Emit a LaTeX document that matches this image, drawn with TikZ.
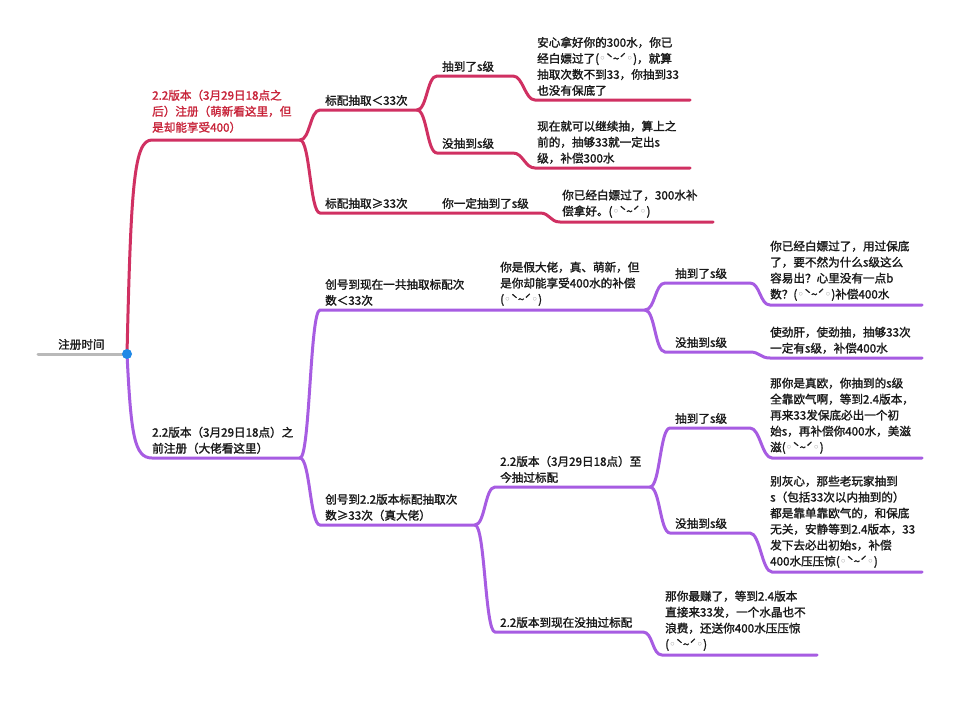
\documentclass[tikz,border=0pt]{standalone}
\usepackage{fontspec}
\setmainfont{Noto Sans CJK SC}[FakeBold=1.6]
\newfontfamily\symfont{DejaVu Sans}
\usetikzlibrary{calc}

\definecolor{rosebranch}{RGB}{208,48,98}
\definecolor{rosetext}{RGB}{200,36,58}
\definecolor{violetbranch}{RGB}{167,92,226}
\definecolor{rootgray}{RGB}{185,185,185}
\definecolor{dotblue}{RGB}{32,136,230}

\newcommand{\kao}{(\textcolor{gray!80}{\symfont ◦}ˋ\textasciitilde ˊ\textcolor{gray!80}{\symfont ◦})}

\tikzset{
  topic/.style={anchor=south west, inner sep=0pt, align=left,
    font=\fontsize{11.6}{16}\selectfont, text=black!90},
  redtopic/.style={topic, text=rosetext},
  rootline/.style={line width=3pt, draw=rootgray, line cap=round},
  redline/.style={line width=3pt, draw=rosebranch, line cap=round},
  violetline/.style={line width=3pt, draw=violetbranch, line cap=round},
  branch/.style={to path={.. controls ($(\tikztostart)+(10,0)$) and ($(\tikztotarget)+(-10,0)$) .. (\tikztotarget)}},
  hub/.style={circle, fill=dotblue, minimum size=10pt, inner sep=0pt},
}

\begin{document}
\begin{tikzpicture}[x=1pt, y=-1pt]
  \path[fill=white] (0,0) rectangle (960,709);
  \useasboundingbox (0,0) rectangle (960,709);

  % Root
  \coordinate (root-s) at (38,354);
  \coordinate (root-e) at (127,354);
  \node[topic] (root) at (58,350) {注册时间};

  % After 3/29 (red)
  \coordinate (r-s) at (152,140);    \coordinate (r-e) at (300,140);
  \coordinate (r1-s) at (320,110);   \coordinate (r1-e) at (417,110);
  \coordinate (r1a-s) at (437,76);   \coordinate (r1a-e) at (513,76);
  \coordinate (r1al-s) at (535,100); \coordinate (r1al-e) at (690,100);
  \coordinate (r1b-s) at (437,153);  \coordinate (r1b-e) at (513,153);
  \coordinate (r1bl-s) at (535,168); \coordinate (r1bl-e) at (690,168);
  \coordinate (r2-s) at (320,213);   \coordinate (r2-e) at (430,213);
  \coordinate (r2a-e) at (540,213);
  \coordinate (r2al-s) at (560,222); \coordinate (r2al-e) at (713,222);

  \node[redtopic] (r) at (152,133) {2.2版本（3月29日18点之\\后）注册（萌新看这里，但\\是却能享受400）};
  \node[topic] (r1) at (325,106) {标配抽取＜33次};
  \node[topic] (r1a) at (442,72) {抽到了s级};
  \node[topic] (r1al) at (537,96) {安心拿好你的300水，你已\\经白嫖过了\kao，就算\\抽取次数不到33，你抽到33\\也没有保底了};
  \node[topic] (r1b) at (442,149) {没抽到s级};
  \node[topic] (r1bl) at (537,164) {现在就可以继续抽，算上之\\前的，抽够33就一定出s\\级，补偿300水};
  \node[topic] (r2) at (325,209) {标配抽取≥33次};
  \node[topic] (r2a) at (442,209) {你一定抽到了s级};
  \node[topic] (r2al) at (562,218) {你已经白嫖过了，300水补\\偿拿好。\kao};

  % Before 3/29 (violet)
  \coordinate (p-s) at (152,458);     \coordinate (p-e) at (300,458);
  \coordinate (p1-s) at (320,310);    \coordinate (p1-e) at (490,310);
  \coordinate (p1a-e) at (645,310);
  \coordinate (p1a1-s) at (665,283);  \coordinate (p1a1-e) at (750,283);
  \coordinate (p1a1l-s) at (770,305); \coordinate (p1a1l-e) at (922,305);
  \coordinate (p1a2-s) at (665,352);  \coordinate (p1a2-e) at (750,352);
  \coordinate (p1a2l-s) at (770,358); \coordinate (p1a2l-e) at (922,358);
  \coordinate (p2-s) at (320,525);    \coordinate (p2-e) at (475,525);
  \coordinate (p2a-s) at (495,487);   \coordinate (p2a-e) at (650,487);
  \coordinate (p2a1-s) at (670,428);  \coordinate (p2a1-e) at (750,428);
  \coordinate (p2a1l-s) at (772,458); \coordinate (p2a1l-e) at (922,458);
  \coordinate (p2a2-s) at (670,533);  \coordinate (p2a2-e) at (750,533);
  \coordinate (p2a2l-s) at (772,572); \coordinate (p2a2l-e) at (922,572);
  \coordinate (p2b-s) at (495,632);   \coordinate (p2b-e) at (643,632);
  \coordinate (p2bl-s) at (662,655);  \coordinate (p2bl-e) at (817,655);

  \node[topic] (p) at (152,454) {2.2版本（3月29日18点）之\\前注册（大佬看这里）};
  \node[topic] (p1) at (325,306) {创号到现在一共抽取标配次\\数＜33次};
  \node[topic] (p1a) at (500,306) {你是假大佬，真、萌新，但\\是你却能享受400水的补偿\\\kao};
  \node[topic] (p1a1) at (675,279) {抽到了s级};
  \node[topic] (p1a1l) at (770,301) {你已经白嫖过了，用过保底\\了，要不然为什么s级这么\\容易出？心里没有一点b\\数？\kao 补偿400水};
  \node[topic] (p1a2) at (675,348) {没抽到s级};
  \node[topic] (p1a2l) at (770,354) {使劲肝，使劲抽，抽够33次\\一定有s级，补偿400水};
  \node[topic] (p2) at (325,521) {创号到2.2版本标配抽取次\\数≥33次（真大佬）};
  \node[topic] (p2a) at (500,483) {2.2版本（3月29日18点）至\\今抽过标配};
  \node[topic] (p2a1) at (675,424) {抽到了s级};
  \node[topic] (p2a1l) at (770,454) {那你是真欧，你抽到的s级\\全靠欧气啊，等到2.4版本，\\再来33发保底必出一个初\\始s，再补偿你400水，美滋\\滋\kao};
  \node[topic] (p2a2) at (675,529) {没抽到s级};
  \node[topic] (p2a2l) at (770,568) {别灰心，那些老玩家抽到\\s（包括33次以内抽到的）\\都是靠单靠欧气的，和保底\\无关，安静等到2.4版本，33\\发下去必出初始s，补偿\\400水压压惊\kao};
  \node[topic] (p2b) at (500,628) {2.2版本到现在没抽过标配};
  \node[topic] (p2bl) at (665,651) {那你最赚了，等到2.4版本\\直接来33发，一个水晶也不\\浪费，还送你400水压压惊\\\kao};

  % Branches
  \draw[rootline] (root-s) -- (root-e);
  \draw[redline] (root-e) .. controls +(4,-170) and +(-18,0) .. (r-s) -- (r-e);
  \draw[redline] (r-e) to[branch] (r1-s) -- (r1-e);
  \draw[redline] (r1-e) to[branch] (r1a-s) -- (r1a-e) to[branch] (r1al-s) -- (r1al-e);
  \draw[redline] (r1-e) to[branch] (r1b-s) -- (r1b-e) to[branch] (r1bl-s) -- (r1bl-e);
  \draw[redline] (r-e) to[branch] (r2-s) -- (r2-e) -- (r2a-e) to[branch] (r2al-s) -- (r2al-e);

  \draw[violetline] (root-e) .. controls +(4,80) and +(-18,0) .. (p-s) -- (p-e);
  \draw[violetline] (p-e) to[branch] (p1-s) -- (p1-e) -- (p1a-e);
  \draw[violetline] (p1a-e) to[branch] (p1a1-s) -- (p1a1-e) to[branch] (p1a1l-s) -- (p1a1l-e);
  \draw[violetline] (p1a-e) to[branch] (p1a2-s) -- (p1a2-e) to[branch] (p1a2l-s) -- (p1a2l-e);
  \draw[violetline] (p-e) to[branch] (p2-s) -- (p2-e);
  \draw[violetline] (p2-e) to[branch] (p2a-s) -- (p2a-e);
  \draw[violetline] (p2a-e) to[branch] (p2a1-s) -- (p2a1-e) to[branch] (p2a1l-s) -- (p2a1l-e);
  \draw[violetline] (p2a-e) to[branch] (p2a2-s) -- (p2a2-e) to[branch] (p2a2l-s) -- (p2a2l-e);
  \draw[violetline] (p2-e) to[branch] (p2b-s) -- (p2b-e) to[branch] (p2bl-s) -- (p2bl-e);

  \node[hub] (hubdot) at (root-e) {};
\end{tikzpicture}
\end{document}
